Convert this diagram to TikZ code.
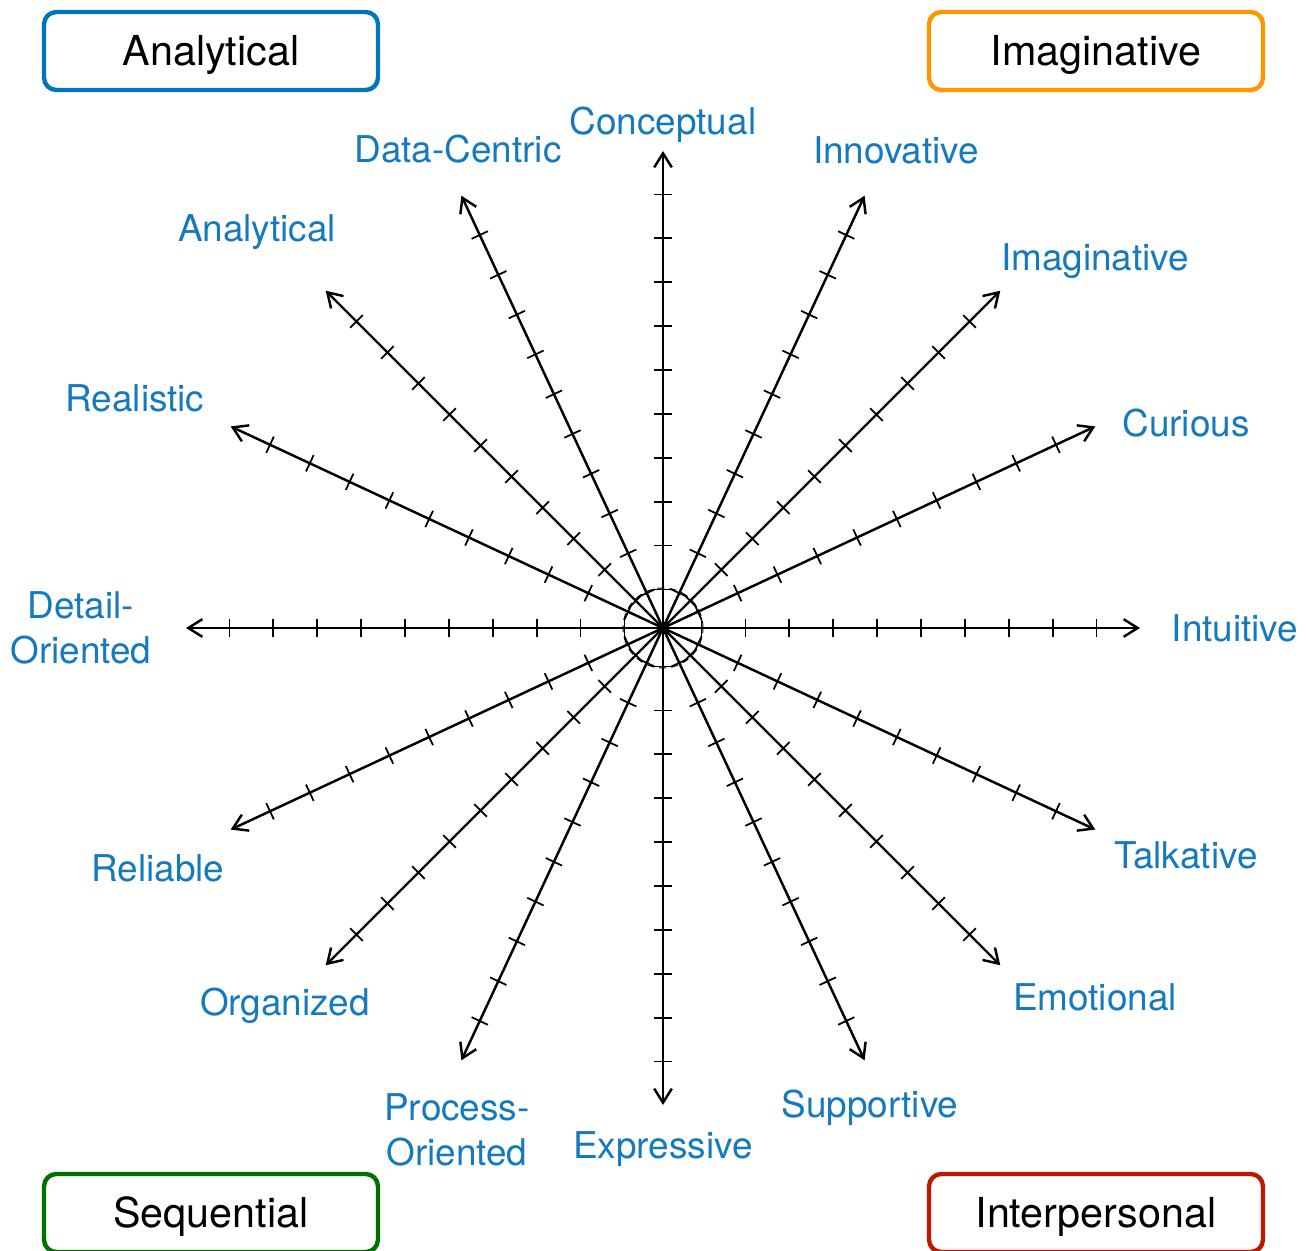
\documentclass[tikz,border=0pt]{standalone}
\usepackage{fontspec}
\setmainfont{TeX Gyre Heros}
\usetikzlibrary{arrows.meta}

\definecolor{lblue}{RGB}{21,121,189}
\definecolor{bblue}{RGB}{0,116,190}
\definecolor{borange}{RGB}{255,150,0}
\definecolor{bgreen}{RGB}{0,112,0}
\definecolor{bred}{RGB}{190,25,0}

\begin{document}
\begin{tikzpicture}[x=0.02cm,y=0.02cm,
  axis/.style={line width=1.4pt,-{Straight Barb[length=8pt,width=10pt]}},
  tickmark/.style={line width=1pt},
  ring/.style={line width=0.5pt,dash pattern=on 4pt off 3pt},
  trait/.style={text=lblue,font=\fontsize{21}{26}\selectfont,align=center,inner sep=0pt},
  group/.style={draw=#1,line width=2.5pt,rounded corners=7pt,minimum width=6.68cm,
    minimum height=1.56cm,inner sep=0pt,text height=21.5pt,text depth=5pt,
    font=\fontsize{23.5}{28}\selectfont}]

%axis info
\def\len{477}
\def\first{38.5}
\def\gap{43.9}
\def\tick{9}
\useasboundingbox (-663,-623) rectangle (646,628);
\coordinate (O) at (0,0);

%center ring
\draw[ring] (O) circle (40);

%draw axes and ticks
\foreach \a in {0,25,45,65,90,115,135,155,180,205,225,245,270,295,315,335}{
    \coordinate (E\a) at (\a:\len);
    \draw[axis] (O) -- (E\a);
    \foreach \k in {0,...,9}{
        \draw[tickmark,rotate=\a] ({\first+\k*\gap},-\tick) -- ({\first+\k*\gap},\tick);
    }
}

%trait labels
\foreach \n/\x/\y/\t in {conc/0/503/Conceptual, data/-205/479/Data-Centric,
    inno/233/478/Innovative, anal/-406/396/Analytical, imag/432/367/Imaginative,
    real/-528/230/Realistic, curi/523/205/Curious, deta/-582/0/{Detail-\\Oriented},
    intu/572/0/Intuitive, reli/-505/-240/Reliable, talk/523/-227/Talkative,
    orga/-378/-378/Organized, emot/432/-369/Emotional, proc/-206/-502/{Process-\\Oriented},
    supp/207/-480/Supportive, expr/0/-521/Expressive}{
    \node[trait] (\n) at (\x,\y) {\t};
}

%corner boxes
\node[group=bblue]   (analytical)    at (-452,577)  {Analytical};
\node[group=borange] (imaginative)   at (433,577)   {Imaginative};
\node[group=bgreen]  (sequential)    at (-452,-585) {Sequential};
\node[group=bred]    (interpersonal) at (433,-585)  {Interpersonal};

\end{tikzpicture}
\end{document}
